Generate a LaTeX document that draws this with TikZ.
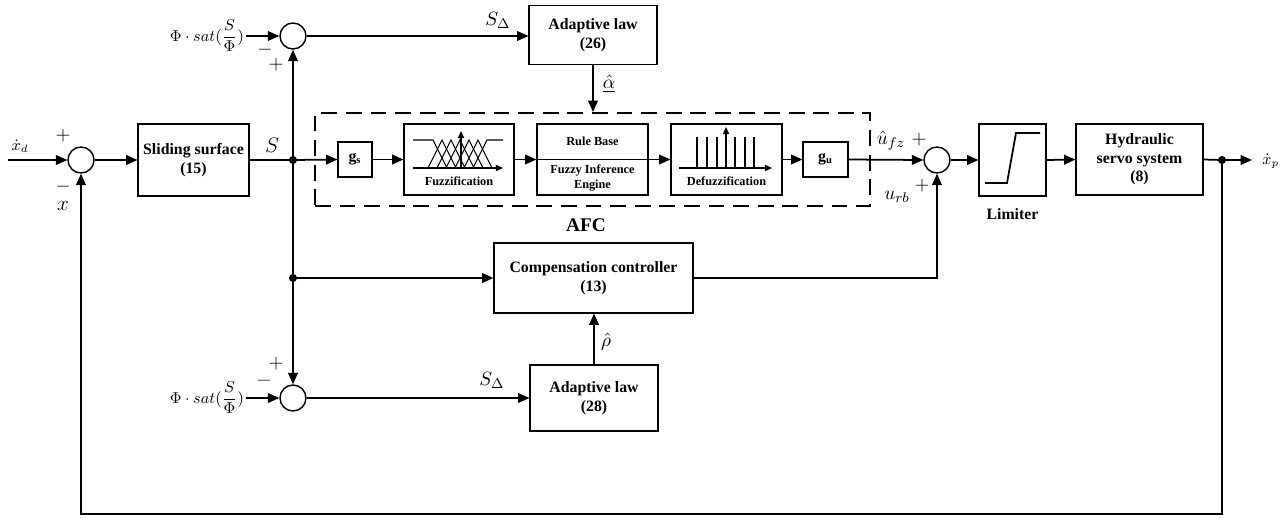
\documentclass[tikz,border=0pt]{standalone}
\usepackage{fontspec}
\setmainfont{Liberation Serif}
\usetikzlibrary{arrows.meta}

\begin{document}
\begin{tikzpicture}[x=0.02cm, y=-0.02cm, font=\fontsize{9}{10}\selectfont]

		\tikzstyle{edge} = [line width=1pt, -{Triangle[length=6.5pt, width=5.5pt]}]
		\tikzstyle{wire} = [line width=1pt]
		\tikzstyle{block} = [draw, line width=0.6pt, inner sep=0pt, align=center, font=\bfseries\fontsize{9}{10.5}\selectfont]
		\tikzstyle{sum} = [circle, draw, line width=0.8pt, inner sep=0pt, minimum size=0.52cm]
		\tikzstyle{small} = [font=\bfseries\fontsize{7}{8}\selectfont, inner sep=0pt]
		\tikzstyle{sign} = [font=\fontsize{11}{12}\selectfont, inner sep=0pt]
		\tikzstyle{icon} = [line width=0.6pt]

		\useasboundingbox (0,0) rectangle (1286,518);

		% main path
		\node[sum](s1) at (81,160){};
		\node[block, minimum width=2.22cm, minimum height=1.44cm](slide) at (193.5,160){Sliding surface\\(15)};
		\coordinate (j1) at (293,160);
		\coordinate (j3) at (293,278);
		\node[sum](su) at (293,36){};
		\node[sum](sl) at (293,398){};

		% adaptive laws and compensation
		\node[block, minimum width=2.56cm, minimum height=1.18cm](law26) at (593,35){Adaptive law\\(26)};
		\node[block, minimum width=2.56cm, minimum height=1.32cm](law28) at (594,398){Adaptive law\\(28)};
		\node[block, minimum width=3.98cm, minimum height=1.4cm](comp) at (593.5,278){Compensation controller\\(13)};

		% AFC
		\node[draw, dashed, line width=1.1pt, dash pattern=on 9pt off 5pt, minimum width=11.1cm, minimum height=1.86cm](afc) at (592.5,159.5){};
		\node[block, minimum width=0.68cm, minimum height=0.7cm](gs) at (355,159.5){g\textsubscript{s}};
		\node[block, minimum width=2.2cm, minimum height=1.42cm](fuzz) at (459,159.5){};
		\node[block, minimum width=2.22cm, minimum height=1.42cm](rule) at (592.5,159.5){};
		\node[block, minimum width=2.22cm, minimum height=1.42cm](defuzz) at (726.5,159.5){};
		\node[block, minimum width=0.9cm, minimum height=0.7cm](gu) at (825.5,159.5){g\textsubscript{u}};
		\node[font=\bfseries\fontsize{11}{12}\selectfont](afclabel) at (586,225){AFC};

		% plant side
		\node[sum](s2) at (937,160){};
		\node[block, minimum width=1.34cm, minimum height=1.44cm](lim) at (1012.5,160){};
		\node[font=\bfseries\fontsize{9}{10}\selectfont](limlabel) at (1012.5,214){Limiter};
		\node[block, minimum width=2.54cm, minimum height=1.42cm](hyd) at (1139.5,159.5){Hydraulic\\servo system\\(8)};
		\coordinate (j2) at (1222,160);
		\coordinate (out) at (1252,160);
		\coordinate (in) at (8,160);

		% box contents
		\node[small](fuzztext) at (459,181){Fuzzification};
		\draw[icon] (rule.west) -- (rule.east);
		\node[small](ruletext) at (592.5,141){Rule Base};
		\node[small, align=center](enginetext) at (592.5,178){Fuzzy Inference\\Engine};
		\node[small](defuzztext) at (726.5,181){Defuzzification};

		\draw[icon, -{Triangle[length=4pt, width=3.5pt]}] (413,168) -- (503,168);
		\draw[icon, -{Triangle[length=4pt, width=3.5pt]}] (461,168) -- (461,131);
		\draw[icon] (413,140) -- (433,140) -- (447,168);
		\draw[icon] (428,168) -- (442,140) -- (456,168);
		\draw[icon] (437,168) -- (451,140) -- (465,168);
		\draw[icon] (446,168) -- (460,140) -- (474,168);
		\draw[icon] (455,168) -- (469,140) -- (483,168);
		\draw[icon] (464,168) -- (478,140) -- (492,168);
		\draw[icon] (473,168) -- (487,140) -- (503,140);

		\draw[icon, -{Triangle[length=4pt, width=3.5pt]}] (679,168) -- (772,168);
		\draw[icon, -{Triangle[length=4pt, width=3.5pt]}] (726,168) -- (726,127);
		\draw[icon] (697,168) -- (697,137) (707,168) -- (707,137) (717,168) -- (717,137);
		\draw[icon] (735,168) -- (735,137) (745,168) -- (745,137) (754,168) -- (754,137);

		\draw[line width=1pt] (985,183) -- (1007,183) -- (1016,133) -- (1040,133);

		% connections
		\draw[edge] (in) -- (s1.west);
		\draw[edge] (s1.east) -- (slide.west);
		\draw[wire] (slide.east) -- (j1);
		\draw[edge] (j1) -- (su.south);
		\draw[edge] (j1) -- (sl.north);
		\draw[edge] (j1) -- (gs.west);
		\draw[edge] (j3) -- (comp.west);
		\fill (j1) circle (2.3pt);
		\fill (j3) circle (2.3pt);

		\node[inner sep=1pt, anchor=east](sat1) at (246,36){$\displaystyle \Phi\cdot sat(\frac{S}{\Phi})$};
		\node[inner sep=1pt, anchor=east](sat2) at (246,398){$\displaystyle \Phi\cdot sat(\frac{S}{\Phi})$};
		\draw[edge] (sat1) -- (su.west);
		\draw[edge] (sat2) -- (sl.west);
		\draw[edge] (su.east) -- (su.east -| law26.west);
		\draw[edge] (sl.east) -- (sl.east -| law28.west);
		\draw[edge] (law26.south) -- (law26.south |- afc.north);
		\draw[edge] (law28.north) -- (law28.north |- comp.south);

		\draw[edge] (gs.east) -- (fuzz.west);
		\draw[edge] (fuzz.east) -- (rule.west);
		\draw[edge] (rule.east) -- (defuzz.west);
		\draw[edge] (defuzz.east) -- (gu.west);
		\draw[edge] (gu.east) -- (s2.west);
		\draw[edge] (comp.east) -| (s2.south);
		\draw[edge] (s2.east) -- (lim.west);
		\draw[edge] (lim.east) -- (hyd.west);
		\draw[wire] (hyd.east) -- (j2);
		\draw[edge] (j2) -- (out);
		\fill (j2) circle (2.3pt);
		\draw[edge] (j2) -- ++(0,354) -| (s1.south);

		% labels
		\node(xd) at (20,146){$\dot{x}_d$};
		\node[inner sep=0pt, anchor=west](xp) at (1262,161){$\dot{x}_p$};
		\node[font=\fontsize{13}{14}\selectfont](xlab) at (63,206){$x$};
		\node[font=\fontsize{12}{13}\selectfont](slab) at (272,145){$S$};
		\node[font=\fontsize{11}{12}\selectfont](sd1) at (498,20){$S_\Delta$};
		\node[font=\fontsize{11}{12}\selectfont](sd2) at (492,380){$S_\Delta$};
		\node[font=\fontsize{11}{12}\selectfont](alab) at (609,84){$\underline{\hat{\alpha}}$};
		\node[font=\fontsize{11}{12}\selectfont](rlab) at (606,342){$\hat{\rho}$};
		\node[font=\fontsize{11}{12}\selectfont](ufz) at (891,141){$\hat{u}_{fz}$};
		\node[font=\fontsize{11}{12}\selectfont](urb) at (897,197){$u_{rb}$};

		\node[sign] at (63,136){$+$};
		\node[sign] at (63,187){$-$};
		\node[sign] at (265,50){$-$};
		\node[sign] at (276,65){$+$};
		\node[sign] at (276,364){$+$};
		\node[sign] at (264,381){$-$};
		\node[sign] at (919,140){$+$};
		\node[sign] at (922,186){$+$};

\end{tikzpicture}
\end{document}
